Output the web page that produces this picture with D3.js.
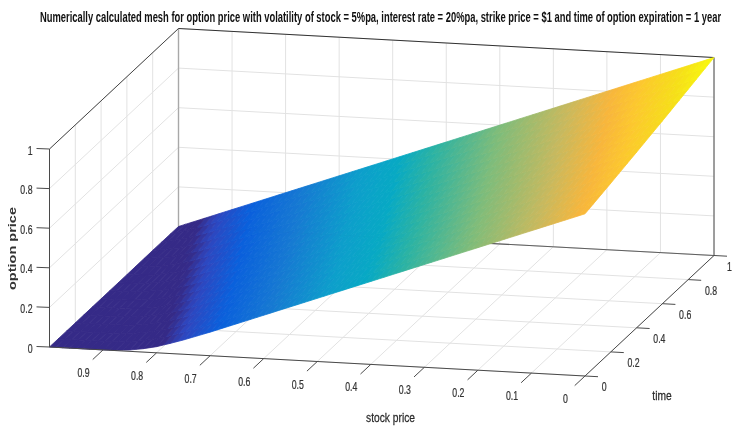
<!DOCTYPE html>
<html>
<head>
<meta charset="utf-8">
<script src="https://cdn.jsdelivr.net/npm/d3@7"></script>
<style>
  html, body { margin: 0; padding: 0; background: #fff; overflow: hidden; }
  svg { display: block; filter: blur(0.35px); }
  text { font-family: "Liberation Sans", Arial, sans-serif; }
</style>
</head>
<body>
<script>
// values
var stockLevels = [0, 0.1, 0.2, 0.3, 0.4, 0.5, 0.6, 0.7, 0.75, 0.775, 0.8, 0.825, 0.85, 0.875, 0.9, 0.95, 1];
var timeLevels = [0, 0.2, 0.4, 0.6, 0.8, 1];
// one row per time level, one column per stock level
var optionPrice = [
    [0.819, 0.719, 0.619, 0.519, 0.419, 0.319, 0.219, 0.119, 0.072, 0.051, 0.031, 0.017, 0.007, 0.002, 0, 0, 0],
    [0.852, 0.752, 0.652, 0.552, 0.452, 0.352, 0.252, 0.152, 0.102, 0.079, 0.056, 0.036, 0.020, 0.009, 0.003, 0, 0],
    [0.887, 0.787, 0.687, 0.587, 0.487, 0.387, 0.287, 0.187, 0.137, 0.112, 0.087, 0.064, 0.042, 0.024, 0.011, 0.001, 0],
    [0.923, 0.823, 0.723, 0.623, 0.523, 0.423, 0.323, 0.223, 0.173, 0.148, 0.123, 0.098, 0.074, 0.051, 0.031, 0.005, 0],
    [0.961, 0.861, 0.761, 0.661, 0.561, 0.461, 0.361, 0.261, 0.211, 0.186, 0.161, 0.136, 0.111, 0.087, 0.063, 0.021, 0.001],
    [1, 0.9, 0.8, 0.7, 0.6, 0.5, 0.4, 0.3, 0.25, 0.225, 0.2, 0.175, 0.15, 0.125, 0.1, 0.05, 0]
];
var stockTicks = [0, 0.1, 0.2, 0.3, 0.4, 0.5, 0.6, 0.7, 0.8, 0.9];
var timeTicks = [0, 0.2, 0.4, 0.6, 0.8, 1];
var priceTicks = [0, 0.2, 0.4, 0.6, 0.8, 1];
var titleText = "Numerically calculated mesh for option price with volatility of stock = 5%pa, interest rate = 20%pa, strike price = $1 and time of option expiration = 1 year";
// colours sampled along the top edge of the surface
var colorStops = [0, 0.04, 0.07, 0.135, 0.23, 0.34, 0.41, 0.48, 0.6, 0.727, 0.81, 0.865, 0.94, 1];
var colorValues = ["#352a87", "#352a87", "#2e46bf", "#0a60dc", "#1679d2", "#0d9fcb", "#07a9c4", "#2db3a2", "#7fbc7a", "#c8b95e", "#f8b63c", "#fcc82e", "#f6e018", "#f8fb0e"];

var width = 733, height = 428;

var svg = d3.select("body").append("svg")
    .attr("width", width)
    .attr("height", height);

// the view is a parallel projection, so each data axis adds a fixed screen offset
var stockX = d3.scaleLinear().domain([1, 0]).range([49.5, 585]),
    stockY = d3.scaleLinear().domain([1, 0]).range([347, 376]),
    timeX = d3.scaleLinear().domain([0, 1]).range([0, 129]),
    timeY = d3.scaleLinear().domain([0, 1]).range([0, -120.5]),
    priceY = d3.scaleLinear().domain([0, 1]).range([0, -198]);
var color = d3.scaleLinear().domain(colorStops).range(colorValues);

function px(s, t) { return stockX(s) + timeX(t); }
function py(s, t, z) { return stockY(s) + timeY(t) + priceY(z); }

function line3d(a, b, stroke, w) {
    svg.append("line")
        .attr("x1", px(a[0], a[1])).attr("y1", py(a[0], a[1], a[2]))
        .attr("x2", px(b[0], b[1])).attr("y2", py(b[0], b[1], b[2]))
        .attr("stroke", stroke)
        .attr("stroke-width", w);
}

function label(x, y, str, anchor, size, squeeze, fill) {
    svg.append("text")
        .attr("transform", "translate(" + x + "," + y + ") scale(" + squeeze + ",1)")
        .attr("text-anchor", anchor)
        .attr("font-size", size)
        .attr("fill", fill)
        .attr("stroke", fill)
        .attr("stroke-width", 0.25)
        .text(str);
}

var gridColor = "#e2e2e2", axisColor = "#4a4a4a";

// grid on the floor and the two walls
stockTicks.forEach(function(s) {
    line3d([s, 0, 0], [s, 1, 0], gridColor, 1);
    line3d([s, 1, 0], [s, 1, 1], gridColor, 1);
});
timeTicks.forEach(function(t) {
    line3d([0, t, 0], [1, t, 0], gridColor, 1);
    line3d([1, t, 0], [1, t, 1], gridColor, 1);
});
priceTicks.forEach(function(z) {
    line3d([1, 0, z], [1, 1, z], gridColor, 1);
    line3d([1, 1, z], [0, 1, z], gridColor, 1);
});

// box edges behind the surface
line3d([1, 1, 0], [1, 1, 1], "#a8a8a8", 1.4);
line3d([1, 1, 0], [0, 1, 0], "#5e5e5e", 1.2);
line3d([1, 0, 1], [1, 1, 1], "#444444", 1);
line3d([1, 1, 1], [0, 1, 1], "#333333", 1);
line3d([0, 1, 1], [0, 1, 0], "#4a4a4a", 1);

// surface, each cell is cut in small pieces to get the smooth shading
var stepsS = 8, stepsT = 3;
var cells = [];
d3.range(timeLevels.length - 1).forEach(function(j) {
    d3.range(stockLevels.length - 1).forEach(function(i) {
        var spanS = stockLevels[i + 1] - stockLevels[i];
        var nS = Math.max(2, Math.round(spanS / 0.1 * stepsS));
        d3.range(stepsT).forEach(function(b) {
            d3.range(nS).forEach(function(a) {
                var corners = [[a, b], [a + 1, b], [a + 1, b + 1], [a, b + 1]].map(function(c) {
                    var u = c[0] / nS, v = c[1] / stepsT;
                    var z0 = optionPrice[j][i] + u * (optionPrice[j][i + 1] - optionPrice[j][i]);
                    var z1 = optionPrice[j + 1][i] + u * (optionPrice[j + 1][i + 1] - optionPrice[j + 1][i]);
                    return [
                        stockLevels[i] + u * spanS,
                        timeLevels[j] + v * (timeLevels[j + 1] - timeLevels[j]),
                        z0 + v * (z1 - z0)
                    ];
                });
                cells.push(corners);
            });
        });
    });
});

svg.append("g").selectAll("polygon")
    .data(cells)
    .enter().append("polygon")
    .attr("points", function(d) {
        return d.map(function(p) { return px(p[0], p[1]) + "," + py(p[0], p[1], p[2]); }).join(" ");
    })
    .attr("fill", function(d) { return color(d3.mean(d, function(p) { return p[2]; })); })
    .attr("stroke", function(d) { return color(d3.mean(d, function(p) { return p[2]; })); })
    .attr("stroke-width", 0.8);

// front axes
line3d([1, 0, 0], [1, 0, 1], axisColor, 1);
line3d([1, 0, 0], [0, 0, 0], axisColor, 1);
line3d([0, 0, 0], [0, 1, 0], axisColor, 1);

stockTicks.forEach(function(s) {
    line3d([s, 0, 0], [s, -0.08, 0], axisColor, 1);
    label(px(s, 0) - 19.5, py(s, 0, 0) + 27, d3.format("~g")(s), "middle", 12.5, 0.7, "#333333");
});
timeTicks.forEach(function(t) {
    svg.append("line")
        .attr("x1", px(0, t)).attr("y1", py(0, t, 0))
        .attr("x2", px(0, t) + 13).attr("y2", py(0, t, 0) + 0.7)
        .attr("stroke", axisColor).attr("stroke-width", 1);
    // the last label sits right at the window edge, pull it in so it stays whole
    var labelX = Math.min(px(0, t) + 16.7, width - 6);
    label(labelX, py(0, t, 0) + 15, d3.format("~g")(t), "start", 12.5, 0.7, "#333333");
});
priceTicks.forEach(function(z) {
    svg.append("line")
        .attr("x1", px(1, 0)).attr("y1", py(1, 0, z))
        .attr("x2", px(1, 0) - 13).attr("y2", py(1, 0, z) - 0.5)
        .attr("stroke", axisColor).attr("stroke-width", 1);
    label(px(1, 0) - 17, py(1, 0, z) + 5.5, d3.format("~g")(z), "end", 12.5, 0.7, "#333333");
});

// axis names and title
label(390.5, 422, "stock price", "middle", 13.5, 0.76, "#2a2a2a");
label(662, 400, "time", "middle", 13.5, 0.76, "#2a2a2a");
svg.append("text")
    .attr("transform", "translate(16,290) rotate(-90)")
    .attr("font-size", 11)
    .attr("font-weight", "bold")
    .attr("fill", "#333333")
    .attr("textLength", 83)
    .attr("lengthAdjust", "spacingAndGlyphs")
    .text("option price");

// title is squeezed to the width it has in the picture
var title = svg.append("text")
    .attr("font-size", 14)
    .attr("font-weight", "bold")
    .attr("fill", "#111111")
    .text(titleText);
var titleScale = 682 / title.node().getComputedTextLength();
title.attr("transform", "translate(40,22) scale(" + titleScale + ",1)");
</script>
</body>
</html>
